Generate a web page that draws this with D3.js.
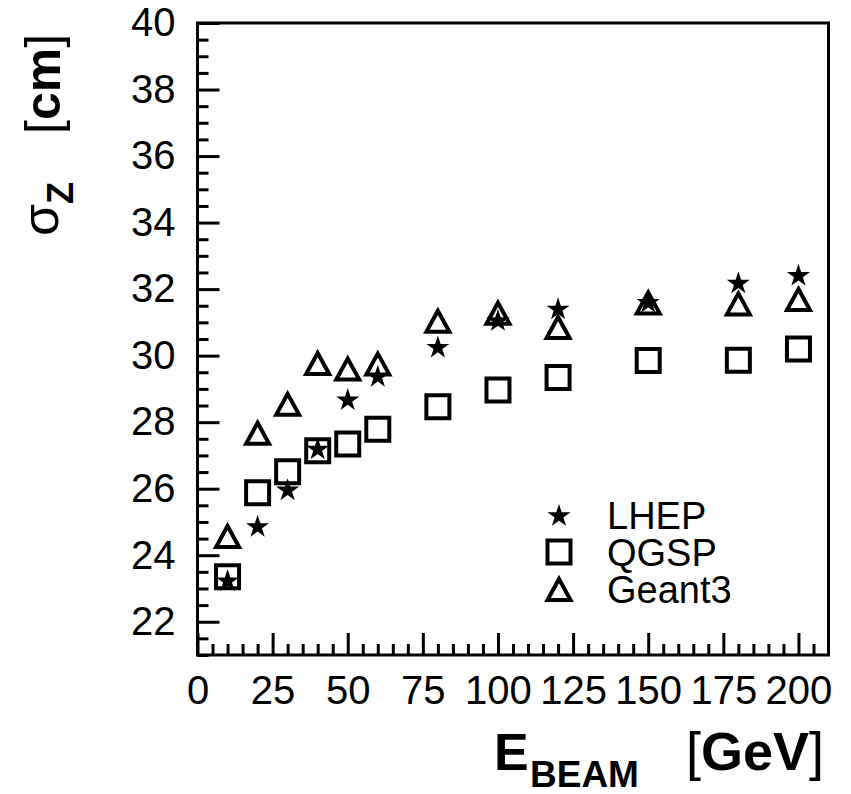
<!DOCTYPE html>
<html>
<head>
<meta charset="utf-8">
<script src="https://cdn.jsdelivr.net/npm/d3@7"></script>
<style>
  html, body { margin: 0; padding: 0; background: #fff; }
  svg { display: block; font-family: "Liberation Sans", Arial, Helvetica, sans-serif; }
</style>
</head>
<body>
<svg id="chart" width="851" height="794"></svg>
<script>
// Beam energies (GeV) and longitudinal shower width sigma_z (cm) per physics list
const energies = [10, 20, 30, 40, 50, 60, 80, 100, 120, 150, 180, 200];
const lhep   = [23.25, 24.88, 25.98, 27.21, 28.69, 29.39, 30.27, 31.07, 31.42, 31.62, 32.20, 32.43];
const qgsp   = [23.35, 25.88, 26.51, 27.14, 27.34, 27.79, 28.46, 28.97, 29.34, 29.85, 29.86, 30.20];
const geant3 = [24.58, 27.68, 28.55, 29.78, 29.61, 29.76, 31.05, 31.29, 30.86, 31.60, 31.57, 31.70];

const xTicks = [0, 25, 50, 75, 100, 125, 150, 175, 200];
const yTicks = [22, 24, 26, 28, 30, 32, 34, 36, 38, 40];
const seriesNames = ["LHEP", "QGSP", "Geant3"];

const svg = d3.select("#chart");
const frame = { left: 197.5, right: 828.5, top: 23, bottom: 655 };

const x = d3.scaleLinear().domain([0, 210]).range([frame.left, frame.right]);
const y = d3.scaleLinear().domain([21, 40]).range([frame.bottom, frame.top]);

const tickFont = 40;

// Minor ticks (no labels)
const xMinor = d3.range(0, 210, 5).filter(v => v % 25 !== 0);
const yMinor = d3.range(21, 40.01, 0.5).filter(v => Math.abs(v % 2) > 1e-9);

const gxMinor = svg.append("g").attr("transform", `translate(0,${frame.bottom})`)
  .call(d3.axisBottom(x).tickValues(xMinor).tickSize(-11).tickFormat(""));
const gyMinor = svg.append("g").attr("transform", `translate(${frame.left},0)`)
  .call(d3.axisLeft(y).tickValues(yMinor).tickSize(-11).tickFormat(""));

// Major ticks with labels
const gx = svg.append("g").attr("transform", `translate(0,${frame.bottom})`)
  .call(d3.axisBottom(x).tickValues(xTicks).tickSize(-22).tickPadding(21).tickFormat(d3.format("d")));
const gy = svg.append("g").attr("transform", `translate(${frame.left},0)`)
  .call(d3.axisLeft(y).tickValues(yTicks).tickSize(-22).tickPadding(22).tickFormat(d3.format("d")));

[gxMinor, gyMinor, gx, gy].forEach(g => {
  g.select(".domain").remove();
  g.selectAll(".tick line").attr("stroke", "#000").attr("stroke-width", 3);
  g.selectAll(".tick text").attr("fill", "#000")
    .style("font-size", tickFont + "px")
    .style("font-family", "'Liberation Sans', Arial, sans-serif");
});

// Plot frame
svg.append("rect")
  .attr("x", frame.left).attr("y", frame.top)
  .attr("width", frame.right - frame.left).attr("height", frame.bottom - frame.top)
  .attr("fill", "none").attr("stroke", "#000").attr("stroke-width", 3);

// Marker shapes
const openTriangle = {
  draw(ctx) {
    ctx.moveTo(0, -10);
    ctx.lineTo(11.5, 11);
    ctx.lineTo(-11.5, 11);
    ctx.closePath();
  }
};
const starPath = d3.symbol().type(d3.symbolStar).size(165)();
const squarePath = d3.symbol().type(d3.symbolSquare).size(23 * 23)();
const trianglePath = d3.symbol().type(openTriangle)();

const markers = [
  { name: seriesNames[0], values: lhep, path: starPath, fill: "#000", stroke: "none", sw: 0 },
  { name: seriesNames[1], values: qgsp, path: squarePath, fill: "none", stroke: "#000", sw: 4 },
  { name: seriesNames[2], values: geant3, path: trianglePath, fill: "none", stroke: "#000", sw: 4 }
];

markers.forEach(m => {
  svg.append("g").selectAll("path")
    .data(energies.map((e, i) => ({ e, v: m.values[i] })))
    .join("path")
    .attr("d", m.path)
    .attr("transform", d => `translate(${x(d.e)},${y(d.v) + (m.path === starPath ? 1 : 0)})`)
    .attr("fill", m.fill)
    .attr("stroke", m.stroke)
    .attr("stroke-width", m.sw)
    .attr("stroke-linejoin", "miter");
});

// Legend
const legend = svg.append("g");
markers.forEach((m, i) => {
  const cy = 515 + i * 37;
  legend.append("path")
    .attr("d", m.path)
    .attr("transform", `translate(559,${cy + (m.path === starPath ? 1 : 0)})`)
    .attr("fill", m.fill).attr("stroke", m.stroke).attr("stroke-width", m.sw);
  legend.append("text")
    .attr("x", 607).attr("y", cy + 14)
    .style("font-size", "38px")
    .text(m.name);
});

// X axis title: E_BEAM [GeV]
const xt = svg.append("g");
xt.append("text").attr("x", 494).attr("y", 770)
  .style("font-size", "52px").style("font-weight", "bold").text("E");
xt.append("text").attr("x", 530).attr("y", 787)
  .style("font-size", "37px").style("font-weight", "bold").text("BEAM");
const gev = xt.append("text").attr("x", 686).attr("y", 770).style("font-size", "54px");
gev.append("tspan").text("[");
gev.append("tspan").style("font-weight", "bold").text("GeV");
gev.append("tspan").text("]");

// Y axis title: sigma_z [cm]
const yt = svg.append("g");
yt.append("text").attr("transform", "translate(58,236) rotate(-90)")
  .style("font-size", "52px").text("σ");
yt.append("text").attr("transform", "translate(73,204) rotate(-90)")
  .style("font-size", "36px").style("font-weight", "bold").text("Z");
const cm = yt.append("text").attr("transform", "translate(60,134) rotate(-90)").style("font-size", "50px");
cm.append("tspan").text("[");
cm.append("tspan").style("font-weight", "bold").text("cm");
cm.append("tspan").text("]");
</script>
</body>
</html>
